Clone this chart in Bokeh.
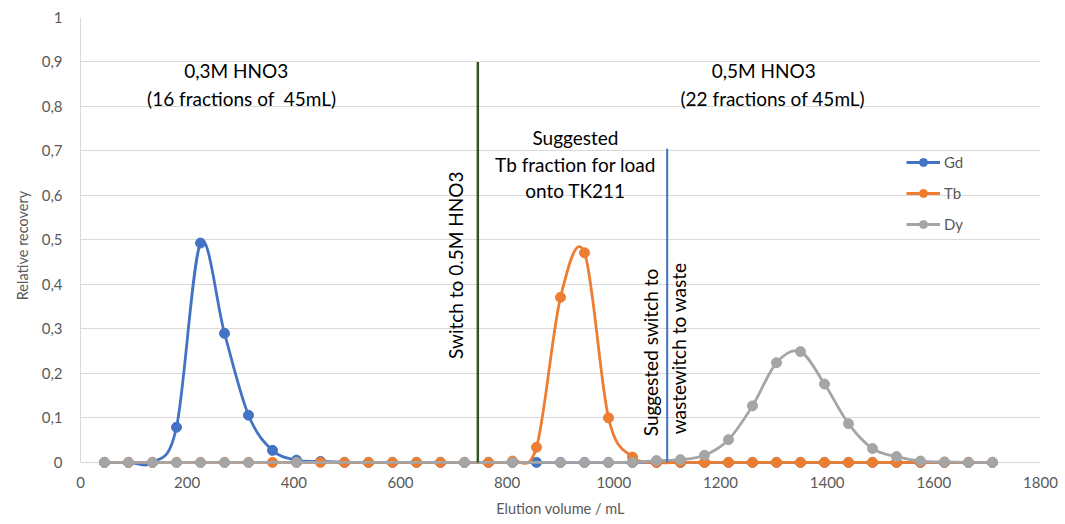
import math
from bokeh.plotting import figure
from bokeh.models import FixedTicker, Legend, LegendItem, ColumnDataSource
from bokeh.core.properties import value
from bokeh.embed import file_html
from bokeh.resources import INLINE

nan = float("nan")

# ---- data ----
volume = [45 * (i + 1) for i in range(38)]  # mL, fractions of 45 mL

gd = [0, 0, 0, 0.079, 0.493, 0.290, 0.106, 0.027, 0.005, 0.002,
      0, 0, 0, 0, 0, 0, 0, 0, 0, 0,
      0, 0, 0, 0, 0, 0, 0, 0, 0, 0,
      0, 0, 0, 0, 0, 0, 0, 0]

tb = [0, 0, 0, 0, 0, 0, 0, 0, 0, 0,
      0, 0, 0, 0, 0, 0, 0, 0.003, 0.034, 0.371,
      0.471, 0.100, 0.012, 0, 0, 0, 0, 0, 0, 0,
      0, 0, 0, 0, 0, 0, 0, 0]

dy = [0, 0, 0, 0, 0, 0, 0, nan, 0, nan,
      nan, nan, nan, nan, nan, 0, nan, 0, nan, 0,
      0, 0, 0, 0.004, 0.006, 0.016, 0.051, 0.127, 0.224, 0.249,
      0.176, 0.087, 0.031, 0.013, 0.003, 0.001, 0, 0]

series_names = ["Gd", "Tb", "Dy"]
series_colors = ["#4472C4", "#ED7D31", "#A5A5A5"]

x_ticks = [0, 200, 400, 600, 800, 1000, 1200, 1400, 1600, 1800]
y_ticks = [0, 0.1, 0.2, 0.3, 0.4, 0.5, 0.6, 0.7, 0.8, 0.9, 1.0]
y_tick_labels = ["0", "0,1", "0,2", "0,3", "0,4", "0,5", "0,6", "0,7", "0,8", "0,9", "1"]

# annotation lines (x position, top)
switch_x = [745]
switch_top = [0.9]
waste_x = [1100]
waste_top = [0.705]

# text annotations
h_texts = ["0,3M HNO3", "(16 fractions of\u00a0 45mL)", "0,5M HNO3", "(22 fractions of 45mL)",
           "Suggested", "Tb fraction for load", "onto TK211"]
h_x = [292, 302, 1281, 1298, 928, 928, 928]
h_y = [0.881, 0.818, 0.881, 0.818, 0.730, 0.670, 0.611]

v_texts = ["Switch to 0.5M HNO3", "Suggested switch to", "wastewitch to waste"]
v_x = [703, 1069, 1121]
v_y = [0.443, 0.247, 0.256]

FONT = "Lato"
GREY = "#595959"

# small margin below 0 so that markers on the baseline are not clipped
p = figure(width=1060, height=520, x_range=(0, 1800), y_range=(-0.025, 1),
           output_backend="svg", toolbar_location=None,
           min_border_left=80, min_border_right=20, min_border_top=17, min_border_bottom=47)
p.outline_line_color = None
p.xgrid.grid_line_color = None
p.ygrid.grid_line_color = "#D9D9D9"
p.ygrid.grid_line_width = 1

p.xaxis.ticker = FixedTicker(ticks=x_ticks)
p.yaxis.ticker = FixedTicker(ticks=y_ticks)
p.yaxis.major_label_overrides = {t: l for t, l in zip(y_ticks, y_tick_labels)}
p.yaxis.bounds = (0, 1)
for ax in (p.xaxis[0], p.yaxis[0]):
    ax.major_tick_line_color = None
    ax.minor_tick_line_color = None
    ax.major_tick_out = 0
    ax.major_tick_in = 0
    ax.major_label_text_font = FONT
    ax.major_label_text_font_size = "15px"
    ax.major_label_text_color = GREY
    ax.axis_label_text_font = FONT
    ax.axis_label_text_font_size = "14.5px"
    ax.axis_label_text_font_style = "normal"
    ax.axis_label_text_color = GREY
p.xaxis.axis_line_color = None
p.yaxis.axis_line_color = "#D9D9D9"
p.xaxis.axis_label = "Elution volume / mL"
p.yaxis.axis_label = "Relative recovery"
p.xaxis.major_label_standoff = 3
p.xaxis.axis_label_standoff = 9
p.yaxis.major_label_standoff = 18
p.yaxis.axis_label_standoff = 8


def smooth_segments(xs, ys):
    pts = [(x, y) for x, y in zip(xs, ys) if not (isinstance(y, float) and math.isnan(y))]
    n = len(pts)
    d = dict(x0=[], y0=[], x1=[], y1=[], cx0=[], cy0=[], cx1=[], cy1=[])
    for i in range(n - 1):
        pa = pts[i - 1] if i > 0 else pts[i]
        pb = pts[i]
        pc = pts[i + 1]
        pd = pts[i + 2] if i + 2 < n else pts[i + 1]
        d["x0"].append(pb[0]); d["y0"].append(pb[1])
        d["x1"].append(pc[0]); d["y1"].append(pc[1])
        d["cx0"].append(pb[0] + (pc[0] - pa[0]) / 6.0)
        d["cy0"].append(pb[1] + (pc[1] - pa[1]) / 6.0)
        d["cx1"].append(pc[0] - (pd[0] - pb[0]) / 6.0)
        d["cy1"].append(pc[1] - (pd[1] - pb[1]) / 6.0)
    return ColumnDataSource(d)


items = []
for name, ys, col in zip(series_names, [gd, tb, dy], series_colors):
    src = smooth_segments(volume, ys)
    bz = p.bezier(x0="x0", y0="y0", x1="x1", y1="y1", cx0="cx0", cy0="cy0", cx1="cx1", cy1="cy1",
                  source=src, line_color=col, line_width=2.8)
    sc = p.scatter(x=volume, y=ys, size=10, marker="circle", fill_color=col, line_color=col)
    items.append(LegendItem(label=name, renderers=[bz, sc], index=0))

# vertical marker lines
p.segment(x0=switch_x, y0=[0] * len(switch_x), x1=switch_x, y1=switch_top,
          line_color="#375623", line_width=2.5)
p.segment(x0=waste_x, y0=[0] * len(waste_x), x1=waste_x, y1=waste_top,
          line_color="#4472C4", line_width=2)

p.text(x=h_x, y=h_y, text=h_texts, text_font=value(FONT), text_font_size="19px",
       text_color="#000000", text_align="center", text_baseline="middle")
p.text(x=v_x, y=v_y, text=v_texts, angle=math.pi / 2, text_font=value(FONT),
       text_font_size="19px", text_color="#000000", text_align="center", text_baseline="middle")

legend = Legend(items=items, location=(826, 239), orientation="vertical",
                padding=0, margin=0, spacing=11, glyph_width=34, glyph_height=20,
                label_height=20, label_standoff=4,
                label_text_font=FONT, label_text_font_size="15px", label_text_color=GREY,
                border_line_alpha=0, background_fill_alpha=0)
p.add_layout(legend)

open("out.html", "w").write(file_html(p, INLINE))
